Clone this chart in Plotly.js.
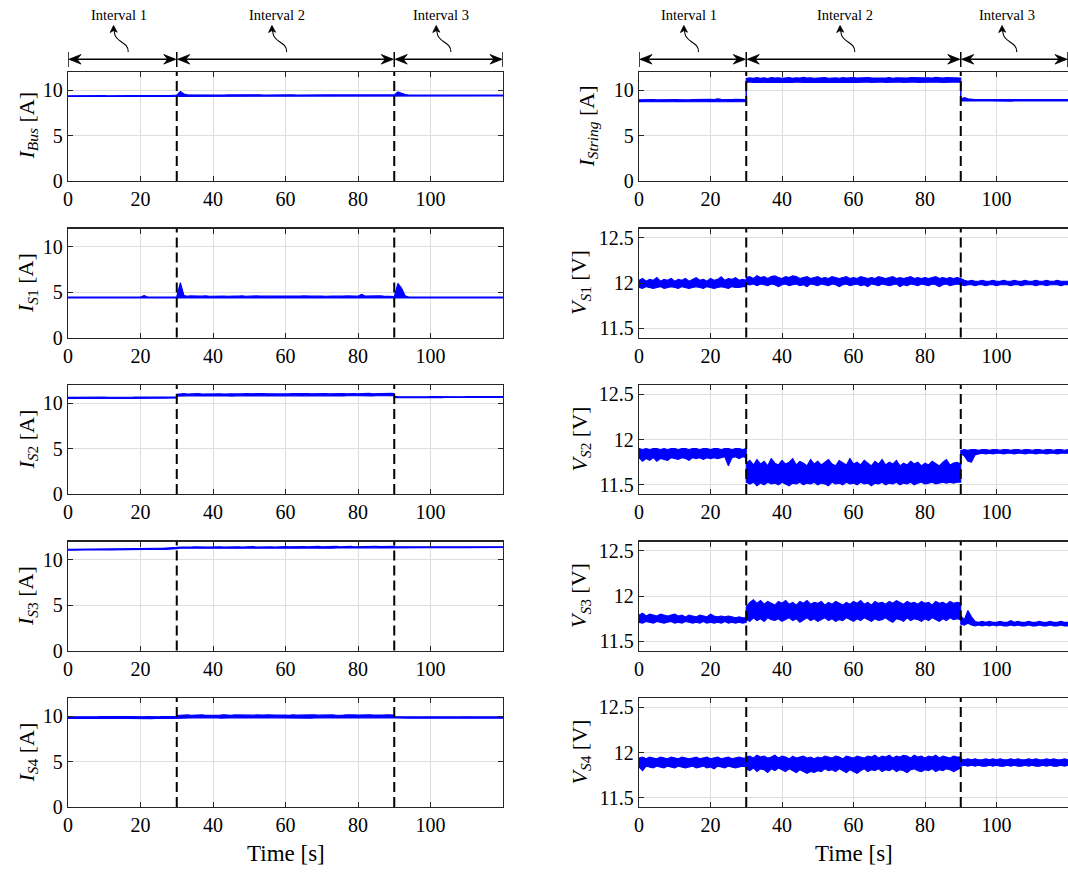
<!DOCTYPE html>
<html>
<head>
<meta charset="utf-8">
<script src="https://cdn.plot.ly/plotly-3.0.1.min.js"></script>
<style>
  html, body { margin: 0; padding: 0; background: #ffffff; }
  #plot { width: 1068px; height: 873px; }
</style>
</head>
<body>
<div id="plot"></div>
<script>
// Sample times [s]; 30 s and 90 s appear twice so the step changes are vertical.
const time = [
  0,1,2,3,4,5,6,7,8,9,10,11,12,13,14,15,16,17,18,19,20,21,22,23,24,25,26,27,28,29,30,
  30,31,32,33,34,35,36,37,38,39,40,41,42,43,44,45,46,47,48,49,50,51,52,53,54,55,56,57,58,59,
  60,61,62,63,64,65,66,67,68,69,70,71,72,73,74,75,76,77,78,79,80,81,82,83,84,85,86,87,88,89,90,
  90,91,92,93,94,95,96,97,98,99,100,101,102,103,104,105,106,107,108,109,110,111,112,113,114,115,116,117,118,119,120
];

// Interval boundaries [s] and labels
const intervalEdges = [0, 30, 90, 120];
const intervalNames = ['Interval 1', 'Interval 2', 'Interval 3'];
const intervalLabelTimes = [14, 57.7, 103];

// Axis ticks
const timeTicks = [0, 20, 40, 60, 80, 100];
const currentTicks = [0, 5, 10];
const voltageTicks = [11.5, 12, 12.5];
const voltageTickText = ['11.5', '12', '12.5'];

// ---- Bus current [A]: lower / upper envelope of the measured signal
const iBusLo = [
  9.30,9.31,9.30,9.30,9.31,9.30,9.31,9.30,9.30,9.31,
  9.30,9.31,9.30,9.30,9.31,9.31,9.30,9.31,9.30,9.31,
  9.31,9.30,9.31,9.31,9.30,9.31,9.31,9.31,9.30,9.31,
  9.31,
  9.38,9.38,9.39,9.38,9.38,9.39,9.38,9.39,9.38,9.38,
  9.39,9.38,9.39,9.39,9.38,9.38,9.39,9.38,9.39,9.38,
  9.39,9.39,9.38,9.39,9.38,9.39,9.39,9.38,9.39,9.39,
  9.38,9.39,9.39,9.38,9.39,9.39,9.39,9.38,9.39,9.39,
  9.38,9.39,9.39,9.39,9.38,9.39,9.39,9.39,9.39,9.38,
  9.39,9.39,9.39,9.38,9.39,9.39,9.39,9.39,9.39,9.39,
  9.39,
  9.39,9.38,9.37,9.37,9.38,9.37,9.37,9.38,9.37,9.37,
  9.38,9.37,9.37,9.38,9.37,9.37,9.38,9.37,9.37,9.38,
  9.37,9.38,9.37,9.37,9.38,9.37,9.38,9.37,9.37,9.38,
  9.37
];
const iBusHi = [
  9.38,9.39,9.38,9.40,9.39,9.38,9.39,9.40,9.38,9.39,
  9.40,9.39,9.38,9.40,9.39,9.41,9.39,9.40,9.41,9.39,
  9.42,9.40,9.41,9.40,9.42,9.41,9.40,9.42,9.41,9.42,
  9.42,
  9.46,9.85,9.58,9.50,9.49,9.48,9.50,9.47,9.49,9.48,
  9.47,9.49,9.48,9.47,9.48,9.49,9.47,9.48,9.47,9.49,
  9.48,9.47,9.48,9.49,9.47,9.48,9.48,9.47,9.49,9.48,
  9.47,9.48,9.49,9.47,9.48,9.48,9.49,9.47,9.48,9.49,
  9.48,9.47,9.48,9.49,9.48,9.47,9.48,9.49,9.48,9.48,
  9.47,9.49,9.48,9.48,9.49,9.47,9.48,9.49,9.48,9.48,
  9.48,
  9.48,9.80,9.62,9.52,9.47,9.46,9.47,9.46,9.45,9.46,
  9.47,9.45,9.46,9.46,9.45,9.47,9.46,9.45,9.46,9.46,
  9.45,9.46,9.47,9.45,9.46,9.46,9.45,9.46,9.46,9.45,
  9.46
];

// ---- Module S1 current [A]
const iS1Lo = [
  4.36,4.37,4.36,4.37,4.36,4.36,4.37,4.36,4.37,4.36,
  4.37,4.36,4.36,4.37,4.36,4.37,4.36,4.36,4.37,4.36,
  4.37,4.36,4.37,4.36,4.36,4.37,4.36,4.37,4.36,4.36,
  4.37,
  4.38,4.36,4.33,4.35,4.34,4.36,4.33,4.35,4.34,4.33,
  4.35,4.34,4.36,4.33,4.34,4.35,4.33,4.36,4.34,4.35,
  4.33,4.34,4.36,4.35,4.33,4.34,4.35,4.36,4.33,4.34,
  4.35,4.33,4.36,4.34,4.35,4.33,4.34,4.36,4.35,4.33,
  4.34,4.35,4.36,4.33,4.34,4.35,4.33,4.36,4.34,4.35,
  4.33,4.34,4.36,4.35,4.34,4.33,4.35,4.36,4.34,4.33,
  4.35,
  4.35,4.36,4.36,4.35,4.34,4.35,4.34,4.35,4.34,4.35,
  4.34,4.35,4.35,4.34,4.35,4.34,4.35,4.34,4.35,4.35,
  4.34,4.35,4.34,4.35,4.34,4.35,4.35,4.34,4.35,4.34,
  4.35
];
const iS1Hi = [
  4.44,4.45,4.44,4.45,4.44,4.45,4.44,4.44,4.45,4.44,
  4.45,4.44,4.45,4.44,4.45,4.44,4.45,4.44,4.45,4.46,
  4.45,4.62,4.46,4.45,4.44,4.45,4.46,4.45,4.44,4.45,
  4.45,
  4.50,6.05,4.62,4.55,4.58,4.54,4.57,4.55,4.59,4.54,
  4.56,4.58,4.55,4.57,4.54,4.58,4.56,4.55,4.59,4.54,
  4.57,4.55,4.58,4.56,4.54,4.59,4.55,4.57,4.56,4.58,
  4.54,4.57,4.59,4.55,4.56,4.58,4.54,4.57,4.55,4.59,
  4.56,4.54,4.58,4.57,4.55,4.59,4.56,4.58,4.54,4.57,
  4.55,4.74,4.56,4.58,4.55,4.57,4.59,4.56,4.55,4.57,
  4.56,
  4.50,5.95,5.45,4.60,4.46,4.45,4.46,4.45,4.46,4.45,
  4.46,4.45,4.46,4.45,4.45,4.46,4.45,4.46,4.45,4.46,
  4.45,4.46,4.45,4.46,4.45,4.45,4.46,4.45,4.46,4.45,
  4.46
];

// ---- Module S2 current [A]
const iS2Lo = [
  10.52,10.51,10.53,10.52,10.51,10.52,10.53,10.51,10.52,10.53,
  10.52,10.51,10.53,10.52,10.52,10.53,10.51,10.52,10.53,10.52,
  10.53,10.54,10.53,10.54,10.55,10.54,10.55,10.56,10.55,10.56,
  10.57,
  10.78,10.80,10.79,10.80,10.78,10.81,10.79,10.80,10.82,10.78,
  10.80,10.81,10.79,10.82,10.80,10.78,10.81,10.80,10.82,10.79,
  10.81,10.80,10.78,10.82,10.81,10.79,10.80,10.82,10.80,10.81,
  10.79,10.82,10.80,10.81,10.79,10.80,10.82,10.81,10.80,10.79,
  10.82,10.80,10.81,10.79,10.82,10.81,10.80,10.82,10.79,10.81,
  10.82,10.80,10.81,10.83,10.80,10.82,10.81,10.83,10.82,10.81,
  10.83,
  10.60,10.62,10.61,10.62,10.61,10.62,10.61,10.62,10.61,10.62,
  10.62,10.61,10.62,10.61,10.62,10.62,10.61,10.62,10.61,10.62,
  10.62,10.61,10.62,10.62,10.61,10.62,10.62,10.61,10.62,10.62,
  10.62
];
const iS2Hi = [
  10.64,10.65,10.64,10.66,10.65,10.64,10.66,10.65,10.64,10.65,
  10.66,10.65,10.64,10.66,10.65,10.66,10.65,10.67,10.66,10.68,
  10.66,10.68,10.67,10.66,10.68,10.67,10.69,10.68,10.67,10.68,
  10.69,
  10.98,11.02,11.05,11.00,11.04,11.02,11.06,11.01,11.03,11.05,
  11.02,11.06,11.03,11.00,11.05,11.04,11.02,11.06,11.03,11.05,
  11.01,11.04,11.06,11.02,11.05,11.03,11.07,11.04,11.02,11.05,
  11.06,11.03,11.05,11.07,11.02,11.04,11.06,11.03,11.05,11.07,
  11.04,11.06,11.02,11.05,11.07,11.03,11.06,11.04,11.08,11.05,
  11.03,11.07,11.05,11.08,11.04,11.06,11.08,11.05,11.07,11.08,
  11.06,
  10.74,10.72,10.71,10.72,10.71,10.72,10.72,10.71,10.72,10.71,
  10.72,10.71,10.72,10.72,10.71,10.72,10.71,10.72,10.72,10.71,
  10.72,10.72,10.71,10.72,10.71,10.72,10.72,10.71,10.72,10.72,
  10.72
];

// ---- Module S3 current [A]
const iS3Lo = [
  11.05,11.06,11.05,11.06,11.07,11.06,11.07,11.07,11.08,11.07,
  11.08,11.09,11.08,11.09,11.10,11.09,11.10,11.11,11.10,11.11,
  11.12,11.11,11.12,11.13,11.12,11.13,11.14,11.13,11.14,11.15,
  11.15,
  11.22,11.25,11.24,11.26,11.25,11.24,11.26,11.25,11.27,11.24,
  11.26,11.25,11.27,11.26,11.24,11.26,11.27,11.25,11.26,11.28,
  11.25,11.27,11.26,11.28,11.25,11.27,11.26,11.28,11.27,11.25,
  11.28,11.26,11.27,11.28,11.26,11.28,11.27,11.29,11.26,11.28,
  11.27,11.29,11.28,11.26,11.29,11.28,11.27,11.29,11.28,11.30,
  11.27,11.29,11.28,11.30,11.28,11.29,11.30,11.28,11.29,11.30,
  11.30,
  11.30,11.31,11.32,11.31,11.32,11.31,11.32,11.32,11.31,11.32,
  11.32,11.31,11.32,11.32,11.33,11.32,11.32,11.33,11.32,11.33,
  11.33,11.32,11.33,11.33,11.32,11.33,11.33,11.34,11.33,11.33,
  11.34
];
const iS3Hi = [
  11.15,11.16,11.17,11.16,11.18,11.17,11.18,11.19,11.18,11.19,
  11.20,11.19,11.20,11.21,11.20,11.22,11.21,11.22,11.23,11.22,
  11.24,11.23,11.25,11.24,11.25,11.26,11.25,11.27,11.26,11.27,
  11.28,
  11.35,11.40,11.38,11.42,11.39,11.41,11.38,11.43,11.40,11.39,
  11.42,11.40,11.43,11.39,11.41,11.44,11.40,11.42,11.39,11.43,
  11.41,11.44,11.40,11.42,11.45,11.41,11.43,11.40,11.44,11.42,
  11.45,11.41,11.43,11.44,11.42,11.45,11.41,11.44,11.43,11.46,
  11.42,11.44,11.45,11.43,11.46,11.42,11.45,11.44,11.46,11.43,
  11.45,11.47,11.44,11.46,11.45,11.47,11.44,11.46,11.47,11.45,
  11.46,
  11.42,11.41,11.40,11.41,11.40,11.41,11.41,11.40,11.41,11.42,
  11.41,11.40,11.41,11.42,11.41,11.41,11.42,11.41,11.42,11.41,
  11.42,11.42,11.41,11.42,11.42,11.41,11.42,11.42,11.43,11.42,
  11.42
];

// ---- Module S4 current [A]
const iS4Lo = [
  9.74,9.76,9.73,9.75,9.74,9.76,9.75,9.73,9.76,9.74,
  9.75,9.76,9.74,9.75,9.73,9.76,9.75,9.74,9.76,9.75,
  9.74,9.76,9.75,9.73,9.76,9.74,9.75,9.76,9.74,9.75,
  9.76,
  9.78,9.82,9.79,9.81,9.83,9.80,9.82,9.79,9.81,9.83,
  9.80,9.82,9.78,9.81,9.83,9.79,9.82,9.80,9.81,9.83,
  9.79,9.82,9.80,9.83,9.81,9.79,9.82,9.80,9.83,9.81,
  9.80,9.82,9.79,9.83,9.81,9.80,9.82,9.78,9.81,9.83,
  9.80,9.82,9.79,9.81,9.83,9.80,9.82,9.81,9.79,9.83,
  9.81,9.82,9.80,9.83,9.81,9.82,9.80,9.83,9.81,9.82,
  9.81,
  9.77,9.78,9.77,9.78,9.77,9.78,9.78,9.77,9.78,9.77,
  9.78,9.77,9.78,9.78,9.77,9.78,9.77,9.78,9.77,9.78,
  9.78,9.77,9.78,9.77,9.78,9.78,9.77,9.78,9.77,9.78,
  9.78
];
const iS4Hi = [
  9.94,9.93,9.95,9.94,9.96,9.93,9.95,9.94,9.93,9.95,
  9.94,9.96,9.93,9.95,9.94,9.93,9.95,9.96,9.94,9.93,
  9.95,9.94,9.96,9.93,9.95,9.94,9.96,9.95,9.93,9.94,
  9.95,
  10.08,10.12,10.09,10.14,10.10,10.13,10.11,10.15,10.09,10.12,
  10.14,10.10,10.13,10.15,10.11,10.09,10.14,10.12,10.15,10.10,
  10.13,10.11,10.14,10.09,10.12,10.15,10.10,10.13,10.11,10.14,
  10.12,10.09,10.15,10.11,10.13,10.10,10.14,10.12,10.15,10.11,
  10.13,10.16,10.12,10.14,10.10,10.15,10.13,10.16,10.11,10.14,
  10.12,10.15,10.13,10.16,10.14,10.12,10.15,10.13,10.16,10.14,
  10.12,
  9.93,9.92,9.93,9.92,9.93,9.92,9.92,9.93,9.92,9.93,
  9.92,9.93,9.92,9.92,9.93,9.92,9.93,9.92,9.92,9.93,
  9.92,9.93,9.92,9.93,9.92,9.92,9.93,9.92,9.93,9.92,
  9.93
];

// ---- String current [A]
const iStringLo = [
  8.74,8.72,8.75,8.73,8.74,8.72,8.75,8.73,8.74,8.75,
  8.72,8.74,8.73,8.75,8.72,8.74,8.73,8.75,8.74,8.72,
  8.75,8.73,8.74,8.75,8.73,8.74,8.72,8.75,8.74,8.73,
  8.74,
  10.86,10.90,10.84,10.88,10.86,10.91,10.85,10.89,10.87,10.84,
  10.90,10.86,10.88,10.85,10.91,10.87,10.84,10.89,10.86,10.90,
  10.85,10.88,10.87,10.84,10.91,10.86,10.89,10.85,10.88,10.90,
  10.86,10.84,10.89,10.87,10.91,10.85,10.88,10.86,10.90,10.84,
  10.87,10.89,10.86,10.91,10.85,10.88,10.87,10.90,10.86,10.84,
  10.89,10.87,10.91,10.86,10.88,10.85,10.90,10.87,10.89,10.86,
  10.88,
  8.80,8.79,8.81,8.80,8.79,8.81,8.80,8.79,8.80,8.81,
  8.79,8.80,8.81,8.80,8.79,8.80,8.81,8.79,8.80,8.80,
  8.81,8.79,8.80,8.81,8.80,8.79,8.80,8.81,8.80,8.79,
  8.80
];
const iStringHi = [
  8.95,8.97,8.94,8.96,8.98,8.95,8.97,8.94,8.96,8.95,
  8.98,8.96,8.94,8.97,8.95,8.96,8.98,8.95,8.97,8.96,
  8.99,8.97,9.05,9.00,8.97,8.98,8.96,8.99,8.97,8.98,
  8.97,
  11.28,11.35,11.30,11.38,11.32,11.36,11.29,11.40,11.33,11.37,
  11.31,11.35,11.39,11.30,11.36,11.33,11.42,11.34,11.37,11.31,
  11.36,11.34,11.39,11.32,11.37,11.35,11.31,11.38,11.33,11.36,
  11.40,11.34,11.37,11.32,11.39,11.35,11.33,11.38,11.36,11.34,
  11.39,11.32,11.37,11.35,11.40,11.33,11.38,11.36,11.34,11.39,
  11.35,11.37,11.33,11.41,11.36,11.34,11.38,11.35,11.39,11.36,
  11.34,
  9.00,9.18,9.05,8.98,8.97,8.96,8.97,8.96,8.97,8.96,
  8.96,8.97,8.96,8.96,8.97,8.96,8.96,8.97,8.96,8.96,
  8.97,8.96,8.96,8.97,8.96,8.96,8.97,8.96,8.96,8.97,
  8.96
];

// ---- Module S1 voltage [V]
const vS1Lo = [
  11.95,11.94,11.96,11.95,11.94,11.95,11.96,11.94,11.95,11.96,
  11.95,11.94,11.96,11.95,11.94,11.95,11.96,11.95,11.94,11.96,
  11.95,11.94,11.95,11.96,11.95,11.94,11.96,11.95,11.95,11.96,
  11.96,
  11.99,11.98,11.99,11.97,11.99,11.98,11.97,11.99,11.98,11.96,
  11.98,11.99,11.97,11.98,11.99,11.97,11.98,11.96,11.99,11.98,
  11.97,11.99,11.98,11.97,11.99,11.98,11.96,11.98,11.99,11.97,
  11.98,11.99,11.97,11.98,11.96,11.99,11.98,11.97,11.99,11.98,
  11.97,11.98,11.99,11.96,11.98,11.97,11.99,11.98,11.97,11.99,
  11.98,11.97,11.99,11.98,11.96,11.98,11.99,11.97,11.98,11.99,
  11.98,
  11.98,11.97,11.98,11.98,11.97,11.98,11.98,11.97,11.98,11.98,
  11.97,11.98,11.98,11.98,11.97,11.98,11.98,11.97,11.98,11.98,
  11.98,11.97,11.98,11.98,11.97,11.98,11.98,11.98,11.97,11.98,
  11.98
];
const vS1Hi = [
  12.03,12.05,12.02,12.04,12.03,12.06,12.02,12.04,12.03,12.05,
  12.02,12.04,12.03,12.05,12.02,12.04,12.06,12.03,12.04,12.02,
  12.05,12.03,12.04,12.07,12.03,12.05,12.04,12.06,12.03,12.04,
  12.03,
  12.06,12.07,12.05,12.08,12.06,12.07,12.05,12.07,12.08,12.06,
  12.05,12.07,12.06,12.08,12.07,12.05,12.06,12.07,12.05,12.06,
  12.07,12.05,12.06,12.05,12.07,12.06,12.05,12.06,12.07,12.05,
  12.06,12.05,12.07,12.06,12.05,12.06,12.05,12.07,12.06,12.05,
  12.06,12.07,12.05,12.06,12.05,12.06,12.07,12.05,12.06,12.05,
  12.06,12.05,12.06,12.07,12.05,12.06,12.05,12.06,12.05,12.06,
  12.05,
  12.05,12.03,12.02,12.03,12.02,12.02,12.03,12.02,12.02,12.03,
  12.02,12.02,12.03,12.02,12.02,12.03,12.02,12.02,12.03,12.02,
  12.02,12.03,12.02,12.02,12.03,12.02,12.02,12.03,12.02,12.02,
  12.02
];

// ---- Module S2 voltage [V]
const vS2Lo = [
  11.80,11.76,11.79,11.77,11.80,11.76,11.79,11.78,11.77,11.80,
  11.79,11.78,11.80,11.79,11.77,11.80,11.79,11.80,11.78,11.80,
  11.79,11.80,11.79,11.80,11.81,11.71,11.80,11.81,11.79,11.81,
  11.80,
  11.53,11.51,11.53,11.49,11.52,11.50,11.53,11.51,11.52,11.50,
  11.53,11.51,11.49,11.52,11.51,11.53,11.50,11.52,11.51,11.53,
  11.50,11.52,11.51,11.49,11.53,11.51,11.52,11.50,11.53,11.51,
  11.52,11.50,11.53,11.51,11.52,11.49,11.52,11.51,11.53,11.50,
  11.52,11.51,11.53,11.50,11.52,11.51,11.53,11.50,11.52,11.53,
  11.51,11.52,11.53,11.51,11.52,11.53,11.52,11.53,11.52,11.53,
  11.53,
  11.84,11.82,11.76,11.75,11.83,11.84,11.85,11.84,11.85,11.84,
  11.85,11.85,11.84,11.85,11.85,11.84,11.85,11.85,11.84,11.85,
  11.85,11.84,11.85,11.85,11.84,11.85,11.85,11.84,11.85,11.85,
  11.85
];
const vS2Hi = [
  11.90,11.89,11.90,11.89,11.90,11.90,11.89,11.90,11.89,11.90,
  11.90,11.89,11.90,11.90,11.89,11.90,11.90,11.89,11.90,11.90,
  11.89,11.90,11.90,11.89,11.90,11.90,11.89,11.90,11.90,11.89,
  11.90,
  11.74,11.77,11.72,11.78,11.73,11.76,11.71,11.79,11.74,11.72,
  11.77,11.73,11.75,11.79,11.72,11.76,11.74,11.71,11.78,11.73,
  11.76,11.72,11.75,11.78,11.73,11.71,11.77,11.74,11.72,11.79,
  11.73,11.75,11.72,11.77,11.74,11.71,11.76,11.73,11.78,11.72,
  11.75,11.73,11.77,11.71,11.74,11.72,11.76,11.73,11.75,11.71,
  11.74,11.72,11.76,11.73,11.71,11.75,11.78,11.72,11.74,11.75,
  11.73,
  11.88,11.89,11.88,11.89,11.89,11.88,11.89,11.89,11.88,11.89,
  11.89,11.88,11.89,11.89,11.88,11.89,11.89,11.88,11.89,11.89,
  11.88,11.89,11.89,11.88,11.89,11.89,11.88,11.89,11.89,11.88,
  11.89
];

// ---- Module S3 voltage [V]
const vS3Lo = [
  11.71,11.70,11.72,11.71,11.70,11.72,11.71,11.70,11.71,11.72,
  11.70,11.71,11.70,11.72,11.71,11.70,11.71,11.70,11.72,11.70,
  11.71,11.70,11.71,11.70,11.72,11.70,11.71,11.70,11.71,11.70,
  11.71,
  11.74,11.72,11.76,11.73,11.75,11.72,11.76,11.74,11.73,11.75,
  11.72,11.74,11.76,11.73,11.75,11.71,11.74,11.76,11.73,11.75,
  11.72,11.74,11.76,11.73,11.75,11.72,11.74,11.73,11.76,11.74,
  11.72,11.75,11.73,11.76,11.74,11.72,11.75,11.73,11.74,11.76,
  11.73,11.71,11.75,11.74,11.72,11.76,11.73,11.75,11.74,11.72,
  11.75,11.73,11.76,11.74,11.72,11.75,11.73,11.76,11.74,11.75,
  11.74,
  11.69,11.68,11.70,11.68,11.67,11.68,11.67,11.68,11.67,11.68,
  11.67,11.68,11.67,11.67,11.68,11.67,11.68,11.67,11.67,11.68,
  11.67,11.67,11.68,11.67,11.67,11.68,11.67,11.67,11.68,11.67,
  11.67
];
const vS3Hi = [
  11.79,11.81,11.78,11.80,11.79,11.78,11.80,11.79,11.78,11.79,
  11.80,11.78,11.79,11.77,11.79,11.78,11.77,11.79,11.78,11.77,
  11.80,11.78,11.77,11.78,11.77,11.78,11.77,11.76,11.77,11.76,
  11.76,
  11.88,11.93,11.96,11.92,11.95,11.91,11.94,11.92,11.90,11.94,
  11.92,11.95,11.91,11.93,11.90,11.94,11.92,11.95,11.91,11.93,
  11.92,11.94,11.90,11.93,11.91,11.94,11.92,11.90,11.93,11.91,
  11.94,11.92,11.95,11.91,11.93,11.90,11.94,11.92,11.93,11.91,
  11.94,11.92,11.95,11.93,11.91,11.94,11.92,11.93,11.91,11.94,
  11.92,11.93,11.90,11.94,11.92,11.93,11.91,11.94,11.92,11.93,
  11.92,
  11.78,11.74,11.84,11.77,11.72,11.71,11.72,11.71,11.72,11.71,
  11.71,11.72,11.71,11.71,11.73,11.71,11.72,11.71,11.71,11.72,
  11.71,11.71,11.72,11.71,11.71,11.72,11.71,11.71,11.72,11.71,
  11.71
];

// ---- Module S4 voltage [V]
const vS4Lo = [
  11.84,11.80,11.85,11.84,11.83,11.85,11.84,11.83,11.85,11.84,
  11.83,11.85,11.84,11.83,11.84,11.85,11.83,11.84,11.85,11.83,
  11.84,11.82,11.85,11.84,11.83,11.85,11.84,11.83,11.84,11.85,
  11.84,
  11.82,11.80,11.83,11.79,11.82,11.81,11.78,11.82,11.80,11.83,
  11.81,11.79,11.82,11.80,11.78,11.81,11.79,11.77,11.79,11.78,
  11.80,11.79,11.82,11.80,11.81,11.79,11.82,11.80,11.78,11.81,
  11.79,11.77,11.80,11.82,11.79,11.81,11.80,11.82,11.79,11.81,
  11.80,11.82,11.79,11.81,11.80,11.78,11.81,11.82,11.80,11.79,
  11.81,11.80,11.82,11.79,11.81,11.80,11.82,11.81,11.79,11.81,
  11.83,
  11.85,11.86,11.85,11.86,11.85,11.86,11.85,11.85,11.86,11.85,
  11.86,11.85,11.85,11.86,11.85,11.86,11.85,11.85,11.86,11.85,
  11.86,11.85,11.85,11.86,11.85,11.86,11.85,11.85,11.86,11.85,
  11.86
];
const vS4Hi = [
  11.94,11.95,11.93,11.95,11.94,11.93,11.95,11.94,11.93,11.95,
  11.94,11.93,11.95,11.94,11.93,11.94,11.95,11.93,11.94,11.95,
  11.93,11.94,11.95,11.93,11.94,11.95,11.93,11.94,11.95,11.94,
  11.94,
  11.95,11.96,11.94,11.97,11.95,11.96,11.94,11.95,11.97,11.94,
  11.96,11.95,11.93,11.96,11.94,11.95,11.96,11.94,11.95,11.93,
  11.95,11.94,11.96,11.95,11.94,11.96,11.95,11.93,11.96,11.95,
  11.94,11.96,11.95,11.94,11.96,11.95,11.97,11.94,11.96,11.95,
  11.97,11.94,11.96,11.95,11.97,11.96,11.94,11.97,11.95,11.96,
  11.94,11.96,11.95,11.97,11.94,11.96,11.95,11.94,11.96,11.95,
  11.95,
  11.93,11.92,11.93,11.92,11.93,11.92,11.92,11.93,11.92,11.93,
  11.92,11.93,11.92,11.92,11.93,11.92,11.93,11.92,11.92,11.93,
  11.92,11.93,11.92,11.92,11.93,11.92,11.93,11.92,11.92,11.93,
  11.92
];

// ---------------------------------------------------------------
// Figure geometry (pixels)
const W = 1068, H = 873;
const SERIF = 'Liberation Serif, Times New Roman, serif';
const columns = [
  { x0: 68, x1: 503, titleX: 27 },
  { x0: 639, x1: 1068, titleX: 587 }
];
const rowTop0 = 72, rowStep = 156.5, rowHeight = 109;
const px = v => v / W;
const py = v => 1 - v / H;

const panels = [
  { col: 0, row: 0, lo: iBusLo, hi: iBusHi, kind: 'I', title: '<i>I</i><sub><i>Bus</i></sub> [A]' },
  { col: 0, row: 1, lo: iS1Lo, hi: iS1Hi, kind: 'I', title: '<i>I</i><sub><i>S</i>1</sub> [A]' },
  { col: 0, row: 2, lo: iS2Lo, hi: iS2Hi, kind: 'I', title: '<i>I</i><sub><i>S</i>2</sub> [A]' },
  { col: 0, row: 3, lo: iS3Lo, hi: iS3Hi, kind: 'I', title: '<i>I</i><sub><i>S</i>3</sub> [A]' },
  { col: 0, row: 4, lo: iS4Lo, hi: iS4Hi, kind: 'I', title: '<i>I</i><sub><i>S</i>4</sub> [A]' },
  { col: 1, row: 0, lo: iStringLo, hi: iStringHi, kind: 'I', title: '<i>I</i><sub><i>String</i></sub> [A]' },
  { col: 1, row: 1, lo: vS1Lo, hi: vS1Hi, kind: 'V', title: '<i>V</i><sub><i>S</i>1</sub> [V]' },
  { col: 1, row: 2, lo: vS2Lo, hi: vS2Hi, kind: 'V', title: '<i>V</i><sub><i>S</i>2</sub> [V]' },
  { col: 1, row: 3, lo: vS3Lo, hi: vS3Hi, kind: 'V', title: '<i>V</i><sub><i>S</i>3</sub> [V]' },
  { col: 1, row: 4, lo: vS4Lo, hi: vS4Hi, kind: 'V', title: '<i>V</i><sub><i>S</i>4</sub> [V]' }
];

const AXIS_COLOR = '#262626';
const GRID_COLOR = '#dedede';
const tickFont = { family: SERIF, size: 20, color: '#000000' };

const data = [];
const layout = {
  width: W, height: H,
  margin: { l: 0, r: 0, t: 0, b: 0, pad: 0 },
  paper_bgcolor: '#ffffff', plot_bgcolor: '#ffffff',
  showlegend: false,
  shapes: [], annotations: []
};

panels.forEach((p, i) => {
  const sfx = i === 0 ? '' : String(i + 1);
  const xa = 'x' + sfx, ya = 'y' + sfx;
  const c = columns[p.col];
  const top = rowTop0 + rowStep * p.row, bottom = top + rowHeight;

  layout['xaxis' + sfx] = {
    domain: [px(c.x0), px(c.x1)], anchor: ya, range: [0, 120],
    tickvals: timeTicks, ticks: 'inside', ticklen: 5, tickwidth: 1, tickcolor: AXIS_COLOR,
    showline: true, linecolor: AXIS_COLOR, linewidth: 1.2, mirror: 'ticks',
    showgrid: true, gridcolor: GRID_COLOR, gridwidth: 1, zeroline: false,
    tickfont: tickFont, fixedrange: true
  };
  const yBase = {
    domain: [py(bottom), py(top)], anchor: xa,
    ticks: 'inside', ticklen: 5, tickwidth: 1, tickcolor: AXIS_COLOR,
    showline: true, linecolor: AXIS_COLOR, linewidth: 1.2,
    // the right-hand column runs to the page edge, so it has no right border
    mirror: p.col === 0 ? 'ticks' : false,
    showgrid: true, gridcolor: GRID_COLOR, gridwidth: 1, zeroline: false,
    tickfont: tickFont, fixedrange: true
  };
  if (p.kind === 'I') {
    layout['yaxis' + sfx] = Object.assign(yBase, { range: [0, 12], tickvals: currentTicks });
  } else {
    layout['yaxis' + sfx] = Object.assign(yBase, { range: [11.4, 12.6], tickvals: voltageTicks, ticktext: voltageTickText });
  }

  // measured signal drawn as the band between its lower and upper envelope
  data.push({
    type: 'scatter', mode: 'lines', x: time, y: p.lo, xaxis: xa, yaxis: ya,
    line: { color: '#0000ff', width: 1.1 }, hoverinfo: 'skip'
  });
  data.push({
    type: 'scatter', mode: 'lines', x: time, y: p.hi, xaxis: xa, yaxis: ya,
    line: { color: '#0000ff', width: 1.1 }, fill: 'tonexty', fillcolor: '#0000ff', hoverinfo: 'skip'
  });

  // interval boundaries
  [intervalEdges[1], intervalEdges[2]].forEach(t => {
    layout.shapes.push({
      type: 'line', xref: xa, yref: ya + ' domain', x0: t, x1: t, y0: 0, y1: 1,
      line: { color: '#000000', width: 2, dash: '10px,5px' }, layer: 'above'
    });
  });

  // y-axis title
  const titleX = (p.col === 1 && p.kind === 'V') ? 580 : c.titleX;
  layout.annotations.push({
    text: p.title, xref: 'paper', yref: 'paper', x: px(titleX), y: py((top + bottom) / 2),
    xanchor: 'center', yanchor: 'middle', textangle: -90, showarrow: false,
    font: { family: SERIF, size: 22, color: '#000000' }
  });

  // time axis title under the bottom row
  if (p.row === 4) {
    layout.annotations.push({
      text: 'Time [s]', xref: 'paper', yref: 'paper', x: px((c.x0 + c.x1) / 2), y: py(853),
      xanchor: 'center', yanchor: 'middle', showarrow: false,
      font: { family: SERIF, size: 23, color: '#000000' }
    });
  }

  // interval markers above the top row
  if (p.row === 0) {
    const s = (c.x1 - c.x0) / 120; // pixels per second
    const yA = 59.3;               // arrow height (px from top)
    const X = (t, d) => t + d / s; // time shifted by d pixels
    intervalEdges.forEach(t => {
      layout.shapes.push({
        type: 'line', xref: xa, yref: 'paper', x0: t, x1: t, y0: py(67), y1: py(52),
        line: { color: '#000000', width: 1.5 }
      });
    });
    for (let k = 0; k < 3; k++) {
      const a = intervalEdges[k], b = intervalEdges[k + 1];
      // double-headed arrow spanning the interval
      layout.shapes.push({
        type: 'line', xref: xa, yref: 'paper', x0: X(a, 2), x1: X(b, -2), y0: py(yA), y1: py(yA),
        line: { color: '#000000', width: 1.5 }
      });
      [[a, 1], [b, -1]].forEach(([t, dir]) => {
        layout.shapes.push({
          type: 'path', xref: xa, yref: 'paper',
          path: `M ${X(t, dir * 1)},${py(yA)} L ${X(t, dir * 13)},${py(yA - 4.8)} L ${X(t, dir * 9)},${py(yA)} L ${X(t, dir * 13)},${py(yA + 4.8)} Z`,
          fillcolor: '#000000', line: { color: '#000000', width: 0.8 }
        });
      });
      const tc = intervalLabelTimes[k];
      layout.annotations.push({
        text: intervalNames[k], xref: xa, yref: 'paper', x: tc, y: py(15),
        xanchor: 'center', yanchor: 'middle', showarrow: false,
        font: { family: SERIF, size: 14.5, color: '#000000' }
      });
      // wavy leader from the label down to the interval arrow
      layout.shapes.push({
        type: 'path', xref: xa, yref: 'paper',
        path: `M ${X(tc, 9.5)},${py(52)} C ${X(tc, 10)},${py(42)} ${X(tc, -3)},${py(42)} ${X(tc, -4)},${py(34)} L ${X(tc, -5)},${py(29)}`,
        line: { color: '#000000', width: 1.1 }
      });
      layout.shapes.push({
        type: 'path', xref: xa, yref: 'paper',
        path: `M ${X(tc, -5.2)},${py(25.5)} L ${X(tc, -8.6)},${py(32.5)} L ${X(tc, -5.1)},${py(30.5)} L ${X(tc, -1.6)},${py(32.2)} Z`,
        fillcolor: '#000000', line: { color: '#000000', width: 0.8 }
      });
    }
  }
});

Plotly.newPlot('plot', data, layout, { staticPlot: true, displayModeBar: false });
</script>
</body>
</html>
